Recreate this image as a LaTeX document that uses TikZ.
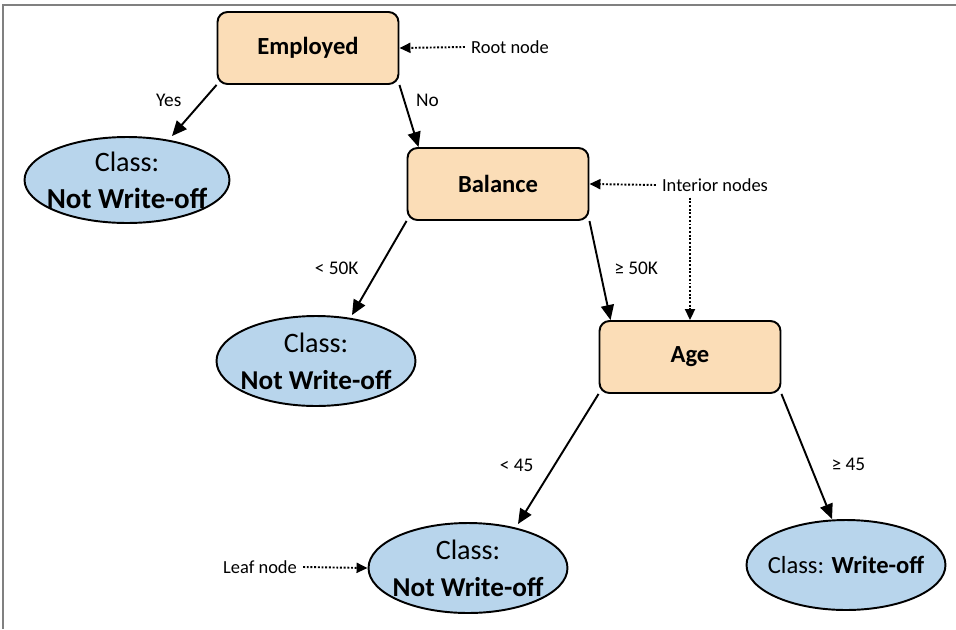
\documentclass[tikz,border=0pt]{standalone}
\usepackage{fontspec}
\setmainfont{Carlito}
\usetikzlibrary{arrows.meta,positioning,shapes.geometric}
\definecolor{boxfill}{HTML}{FBDDB7}
\definecolor{leaffill}{HTML}{B8D5EC}
\begin{document}
\begin{tikzpicture}
    [x=0.02cm, y=-0.02cm,
      decision/.style={draw, line width=1.1pt, rounded corners=0.2cm, fill=boxfill,
        minimum width=3.62cm, minimum height=1.44cm, font=\fontsize{14}{17}\selectfont\bfseries},
      leaf/.style={draw, ellipse, line width=1.1pt, fill=leaffill, inner xsep=-0.6cm, inner ysep=-0.1cm,
        minimum width=3.98cm, minimum height=1.8cm, align=center, font=\fontsize{16}{21}\selectfont},
      branch/.style={line width=1.1pt, -{Triangle[length=0.3cm, width=0.26cm]}},
      pointer/.style={densely dotted, line width=1.1pt, -{Triangle[length=0.22cm, width=0.2cm]}},
      note/.style={font=\fontsize{10.5}{12}\selectfont},
      cond/.style={font=\fontsize{11}{13}\selectfont}]
    \useasboundingbox (0,0) rectangle (956,629);
    \draw[gray, line width=0.8pt] (3,629) -- (3,5) -- (956,5);
    % decision nodes
    \node[decision] (employed) at (308,48) {Employed};
    \node[decision] (balance) at (498,184) {Balance};
    \node[decision] (age) at (690,357) {Age};
    % leaves
    \node[leaf, minimum width=4.1cm, minimum height=1.72cm] (leafa) at (127,180)
      {Class:\\\fontsize{16.5}{21}\selectfont\textbf{Not Write-off}};
    \node[leaf] (leafb) at (316,361) {Class:\\\textbf{\fontsize{15.5}{21}\selectfont Not Write-off}};
    \node[leaf] (leafc) at (468,568) {Class:\\\textbf{\fontsize{15.5}{21}\selectfont Not Write-off}};
    \node[leaf, font=\fontsize{14}{17}\selectfont] (leafd) at (846,565) {Class: \textbf{Write-off}};
    % branches
    \draw[branch] (employed.south west) -- node[cond, pos=0.3, left=0.3cm] {Yes} ([xshift=0.9cm]leafa.north);
    \draw[branch] (employed.south east) -- node[cond, pos=0.25, right=0.1cm] {No} ([xshift=0.24cm]balance.north west);
    \draw[branch] (balance.south west) -- node[cond, pos=0.5, left=0.28cm] {< 50K} ([xshift=0.72cm]leafb.north);
    \draw[branch] (balance.south east) -- node[cond, pos=0.48, right=0.16cm] {≥ 50K} ([xshift=0.24cm]age.north west);
    \draw[branch] (age.south west) -- node[cond, pos=0.55, left=0.28cm] {< 45} ([xshift=1cm, yshift=-0.04cm]leafc.north);
    \draw[branch] (age.south east) -- node[cond, pos=0.56, right=0.3cm] {≥ 45} ([xshift=-0.28cm]leafd.north);
    % annotations
    \node[note] (rootnote) at (510,47) {Root node};
    \node[note] (interiornote) at (715,185) {Interior nodes};
    \node[note] (leafnote) at (260,567) {Leaf node};
    \draw[pointer] (rootnote.west) -- (employed.east);
    \draw[pointer] (interiornote.west) -- (balance.east);
    \draw[pointer] (interiornote.south -| age.north) -- (age.north);
    \draw[pointer] (leafnote.east) -- (leafc.west);
  \end{tikzpicture}
\end{document}
